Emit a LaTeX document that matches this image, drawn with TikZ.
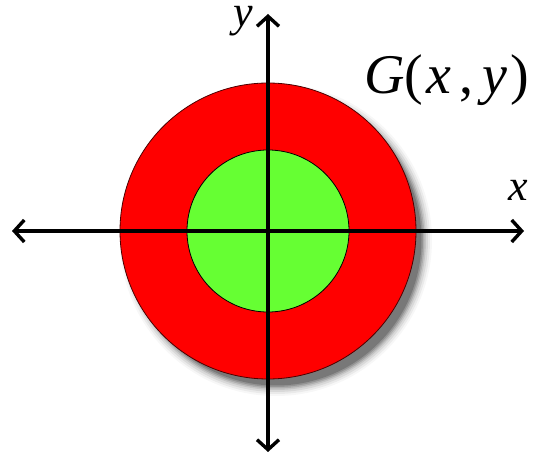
\documentclass[tikz,border=0pt]{standalone}
\usepackage{fontspec}
\setmainfont{Liberation Serif}
\usetikzlibrary{arrows.meta}
\definecolor{ringred}{RGB}{255,0,0}
\definecolor{coregreen}{RGB}{102,255,51}
\tikzset{
  axis/.style={line width=3.4pt, {Straight Barb[length=10pt,width=22pt,line width=3.4pt]}-{Straight Barb[length=10pt,width=22pt,line width=3.4pt]}},
  lbl/.style={inner sep=0pt, text height=0.45em, text depth=0.2em, font=\fontsize{44}{44}\selectfont\itshape},
}
\begin{document}
\begin{tikzpicture}[x=1pt,y=-1pt]
\useasboundingbox (0,0) rectangle (542,457);
% shadow
\foreach \r/\o in {156/0.03,154/0.05,152/0.07,150/0.09,148.5/0.12,147/0.15,145.5/0.18}{
  \fill[black, opacity=\o] (276,240) circle (\r);
}
\node[circle, draw=black!70!red, line width=0.8pt, fill=ringred, minimum size=296pt, inner sep=0pt] (outer) at (268,231) {};
\node[circle, draw=black, line width=0.8pt, fill=coregreen, minimum size=162pt, inner sep=0pt] (inner) at (268,231) {};
\coordinate (xl) at (12,231);
\coordinate (xr) at (524,231);
\coordinate (yt) at (268,14);
\coordinate (yb) at (268,452);
\draw[axis] (xl) -- (xr);
\draw[axis] (yt) -- (yb);
\node[lbl] (ylab) at (243,25) {y};
\node[lbl] (xlab) at (518,199) {x};
\node[inner sep=0pt, font=\fontsize{56}{56}\selectfont, anchor=west] (G) at (364,80) {\textit{G}(\hspace{0.06em}\textit{x}\hspace{0.14em},\hspace{0.16em}\textit{y}\hspace{0.06em})};
\end{tikzpicture}
\end{document}
